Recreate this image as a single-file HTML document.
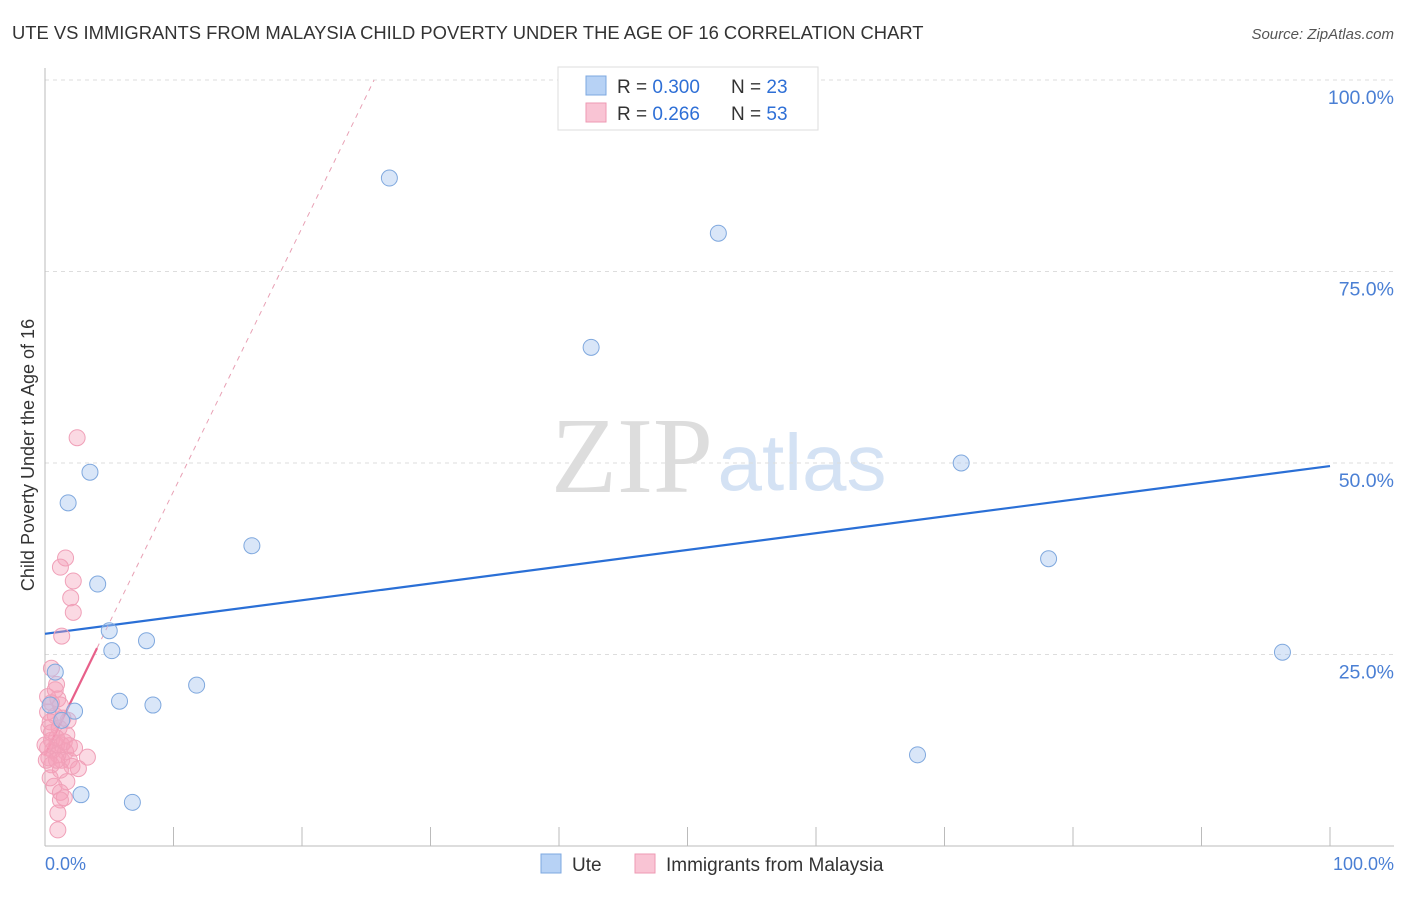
<!DOCTYPE html>
<html><head><meta charset="utf-8"><style>
body{margin:0;background:#fff;font-family:"Liberation Sans",sans-serif;}
</style></head><body>
<svg width="1406" height="892" xmlns="http://www.w3.org/2000/svg" id="chart">
<text x="12" y="39" font-size="18.4" fill="#333">UTE VS IMMIGRANTS FROM MALAYSIA CHILD POVERTY UNDER THE AGE OF 16 CORRELATION CHART</text>
<text x="1394" y="39" font-size="15" fill="#555" font-style="italic" text-anchor="end">Source: ZipAtlas.com</text>
<g>
<text x="632" y="492" font-size="108" fill="#ddd" font-family="Liberation Serif,serif" text-anchor="middle">ZIP</text>
<text x="802" y="490" font-size="80" fill="#d4e2f4" text-anchor="middle">atlas</text>
</g>
<g id="grid"></g>
<g id="axes"></g>
<g id="trends"></g>
<g id="points"></g>
<text transform="translate(34,455) rotate(-90)" font-size="18" fill="#333" text-anchor="middle">Child Poverty Under the Age of 16</text>
<text x="45" y="870" font-size="18" fill="#4a7fd4">0.0%</text>
<text x="1394" y="870" font-size="18" fill="#4a7fd4" text-anchor="end">100.0%</text>
<g>
<rect x="558" y="67" width="260" height="63" fill="#fff" stroke="#ddd"/>
<rect x="586" y="76" width="20" height="19" fill="#b7d2f5" stroke="#7ea8e0"/>
<rect x="586" y="103" width="20" height="19" fill="#f9c4d4" stroke="#ee9ab3"/>
<text x="617" y="93" font-size="19" fill="#333">R = <tspan fill="#2e6fd6">0.300</tspan></text>
<text x="731" y="93" font-size="19" fill="#333">N = <tspan fill="#2e6fd6">23</tspan></text>
<text x="617" y="120" font-size="19" fill="#333">R = <tspan fill="#2e6fd6"> 0.266</tspan></text>
<text x="731" y="120" font-size="19" fill="#333">N = <tspan fill="#2e6fd6">53</tspan></text>
</g>
<g>
<rect x="541" y="854" width="20" height="19" fill="#b7d2f5" stroke="#7ea8e0"/>
<text x="572" y="871" font-size="19" fill="#333">Ute</text>
<rect x="635" y="854" width="20" height="19" fill="#f9c4d4" stroke="#ee9ab3"/>
<text x="666" y="871" font-size="19" fill="#333">Immigrants from Malaysia</text>
</g>
</svg>
<script>
const yTicks=[25,50,75,100];
const yTickLabels=["25.0%","50.0%","75.0%","100.0%"];
const xTicks=[10,20,30,40,50,60,70,80,90,100];
const uteX=[26.8,52.4,42.5,71.3,78.1,96.3,67.9,3.5,1.8,16.1,4.1,5.0,7.9,5.2,11.8,0.8,5.8,8.4,2.3,1.3,2.8,6.8,0.4];
const uteY=[87.2,80.0,65.1,50.0,37.5,25.3,11.9,48.8,44.8,39.2,34.2,28.1,26.8,25.5,21.0,22.7,18.9,18.4,17.6,16.4,6.7,5.7,18.4];
const malX=[2.5,1.6,1.2,2.2,2.0,2.2,1.3,0.5,0.9,0.2,1.0,0.5,1.2,0.2,0.8,1.4,0.4,1.1,1.7,0.5,0.9,1.3,1.9,0.2,0.6,1.6,1.0,0.3,1.3,1.9,3.3,2.6,2.1,0.5,1.2,0.4,1.7,0.7,1.2,1.5,1.2,1.0,1.0,0.3,0.9,1.5,0.5,0,1.8,0.8,0.1,2.3,0.9];
const malY=[53.3,37.6,36.4,34.6,32.4,30.5,27.4,23.2,21.1,19.5,19.2,18.7,18.4,17.5,17.0,16.7,16.2,15.4,14.5,13.8,13.2,13.2,13.1,12.8,12.5,12.3,11.9,11.5,11.2,11.2,11.6,10.1,10.4,10.6,9.9,8.9,8.4,7.8,7.0,6.3,6.0,4.3,2.1,15.4,14.1,13.6,14.8,13.2,16.4,20.4,11.2,12.8,11.2];
const uteTrend=[27.7,49.6];
const malIntercept=11.9, malSlope=3.44;
const X=v=>45+v*12.85, Y=v=>846-v*7.66;
const NS="http://www.w3.org/2000/svg";
function mk(tag,attrs,parent){const e=document.createElementNS(NS,tag);for(const k in attrs)e.setAttribute(k,attrs[k]);document.getElementById(parent).appendChild(e);return e;}
yTicks.forEach((t,i)=>{
 const l=mk('line',{x1:45,x2:1394,y1:Y(t),y2:Y(t),stroke:'#ddd','stroke-dasharray':'4,4'},'grid');
 
 
 const tx=mk('text',{x:1394,y:Y(t)+24,'font-size':19.5,fill:'#4a7fd4','text-anchor':'end'},'grid');
 tx.textContent=yTickLabels[i];
 
 
});
const ax=mk('line',{x1:45,x2:45,y1:68,y2:846,stroke:'#bbb'},'axes');


const bx=mk('line',{x1:45,x2:1394,y1:846,y2:846,stroke:'#bbb'},'axes');


xTicks.forEach(t=>{
 const l=mk('line',{x1:X(t),x2:X(t),y1:827,y2:846,stroke:'#bbb'},'axes');
 
 
});
const ut=mk('line',{x1:X(0),y1:Y(uteTrend[0]),x2:X(100),y2:Y(uteTrend[1]),stroke:'#2a6fd6','stroke-width':2.2},'trends');


const xEnd=(100-malIntercept)/malSlope;
const md=mk('line',{x1:X(4.05),y1:Y(malIntercept+malSlope*4.05),x2:X(xEnd),y2:Y(100),stroke:'#e8a0b4','stroke-width':1,'stroke-dasharray':'5,5'},'trends');


const ms=mk('line',{x1:X(0),y1:Y(malIntercept),x2:X(4.05),y2:Y(malIntercept+malSlope*4.05),stroke:'#e8608a','stroke-width':2.2},'trends');


malX.forEach((x,i)=>{
 const c=mk('circle',{cx:X(x),cy:Y(malY[i]),r:8,fill:'rgba(245,160,185,0.4)',stroke:'#f0a0b8','stroke-width':1},'points');
 
 
});
uteX.forEach((x,i)=>{
 const c=mk('circle',{cx:X(x),cy:Y(uteY[i]),r:8,fill:'rgba(170,200,240,0.45)',stroke:'#7fa8de','stroke-width':1},'points');
 
 
});
</script>
</body></html>
